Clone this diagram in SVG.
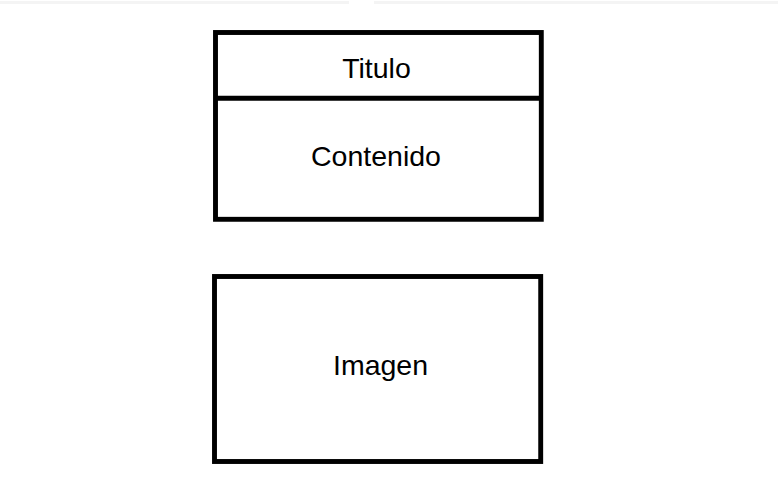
<svg xmlns="http://www.w3.org/2000/svg" width="778" height="496" viewBox="0 0 778 496">
<style>
.box{fill:#ffffff;stroke:#000000;stroke-width:4.9}
.lbl{font-family:"Liberation Sans",Arial,sans-serif;font-size:28.5px;fill:#000000;text-anchor:middle}
</style>
<rect width="778" height="496" fill="#ffffff"/>
<rect x="0" y="1" width="349" height="3" fill="#f4f4f4"/>
<rect x="374" y="1" width="404" height="3" fill="#f4f4f4"/>
<g id="ficha">
<rect class="box" x="215.5" y="32.5" width="325.8" height="186.8"/>
<line x1="215.5" y1="98.3" x2="541.3" y2="98.3" stroke="#000000" stroke-width="4.9"/>
<text class="lbl" x="376.5" y="77.7">Titulo</text>
<text class="lbl" x="376" y="165.5">Contenido</text>
</g>
<g id="imagen">
<rect class="box" x="214.5" y="276.5" width="326.2" height="185"/>
<text class="lbl" x="380.5" y="375">Imagen</text>
</g>
<g id="connectors"></g>
</svg>
